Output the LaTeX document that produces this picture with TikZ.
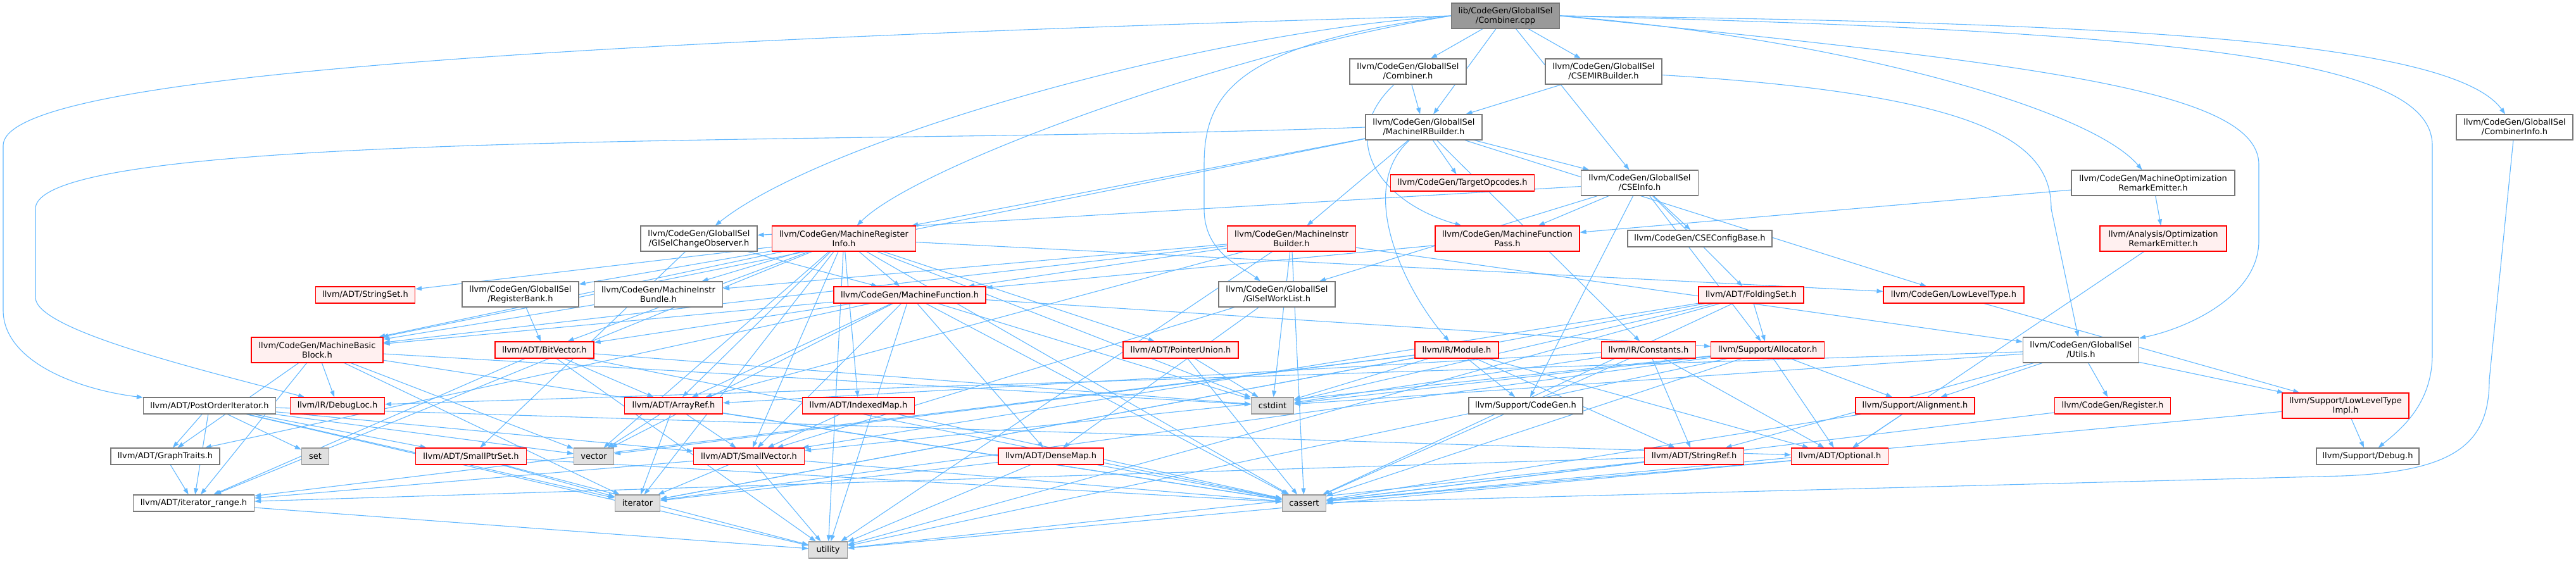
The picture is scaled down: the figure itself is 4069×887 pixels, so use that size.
\documentclass[tikz,border=0pt]{standalone}
\usepackage{fontspec}
\setmainfont{DejaVu Sans}
\usepackage{tikz}
\usetikzlibrary{arrows.meta,backgrounds}
\definecolor{depblue}{RGB}{99,184,255}
\definecolor{truncred}{RGB}{255,0,0}
\definecolor{truncfill}{RGB}{255,240,240}
\definecolor{sysfill}{RGB}{224,224,224}
\definecolor{sysgray}{RGB}{153,153,153}
\definecolor{hdrgray}{RGB}{120,120,120}

\begin{document}
\begin{tikzpicture}[
    x=1pt, y=-1pt,
    box/.style={line width=1.2pt, inner xsep=1pt, inner ysep=0pt, minimum height=26pt, align=center, font=\fontsize{13}{15}\selectfont},
    tall/.style={minimum height=40pt},
    root/.style={box, draw=hdrgray, fill=sysgray},
    hdr/.style={box, draw=hdrgray, fill=white},
    trunc/.style={box, draw=truncred, fill=truncfill},
    sys/.style={box, draw=sysgray, fill=sysfill},
    dep/.style={draw=depblue, line width=1.1pt, -{Triangle[length=10pt,width=7pt]}},
]
    \useasboundingbox (0,0) rectangle (4069,887);

    % Root file
    \node[root, tall, minimum width=171pt] (cpp) at (2378,25) {lib/CodeGen/GlobalISel\\/Combiner.cpp};

    % GlobalISel headers
    \node[hdr, tall, minimum width=184pt] (combh) at (2224,113) {llvm/CodeGen/GlobalISel\\/Combiner.h};
    \node[hdr, tall, minimum width=184pt] (csemir) at (2533,113) {llvm/CodeGen/GlobalISel\\/CSEMIRBuilder.h};
    \node[hdr, tall, minimum width=184pt] (mirb) at (2249,201) {llvm/CodeGen/GlobalISel\\/MachineIRBuilder.h};
    \node[hdr, tall, minimum width=184pt] (combinfo) at (3972,201) {llvm/CodeGen/GlobalISel\\/CombinerInfo.h};
    \node[trunc, minimum width=227pt] (tgtops) at (2310,289) {llvm/CodeGen/TargetOpcodes.h};
    \node[hdr, tall, minimum width=185pt] (cseinfo) at (2590,289) {llvm/CodeGen/GlobalISel\\/CSEInfo.h};
    \node[hdr, tall, minimum width=258pt] (more) at (3401,289) {llvm/CodeGen/MachineOptimization\\RemarkEmitter.h};
    \node[hdr, tall, minimum width=184pt] (observer) at (1104,377) {llvm/CodeGen/GlobalISel\\/GISelChangeObserver.h};
    \node[trunc, tall, minimum width=227pt] (mri) at (1333,377) {llvm/CodeGen/MachineRegister\\Info.h};
    \node[trunc, tall, minimum width=203pt] (mib) at (2040,377) {llvm/CodeGen/MachineInstr\\Builder.h};
    \node[trunc, tall, minimum width=228pt] (mfpass) at (2381,377) {llvm/CodeGen/MachineFunction\\Pass.h};
    \node[hdr, minimum width=228pt] (cseconf) at (2685,377) {llvm/CodeGen/CSEConfigBase.h};
    \node[trunc, tall, minimum width=200pt] (ore) at (3417,377) {llvm/Analysis/Optimization\\RemarkEmitter.h};

    % Middle rows
    \node[trunc, minimum width=157pt] (strset) at (577,466) {llvm/ADT/StringSet.h};
    \node[hdr, tall, minimum width=184pt] (regbank) at (822,465) {llvm/CodeGen/GlobalISel\\/RegisterBank.h};
    \node[hdr, tall, minimum width=203pt] (bundle) at (1040,465) {llvm/CodeGen/MachineInstr\\Bundle.h};
    \node[trunc, minimum width=240pt] (mfunc) at (1437,466) {llvm/CodeGen/MachineFunction.h};
    \node[hdr, tall, minimum width=184pt] (worklist) at (2017,465) {llvm/CodeGen/GlobalISel\\/GISelWorkList.h};
    \node[trunc, minimum width=166pt] (folding) at (2766,466) {llvm/ADT/FoldingSet.h};
    \node[trunc, minimum width=222pt] (llt) at (3086,466) {llvm/CodeGen/LowLevelType.h};
    \node[trunc, tall, minimum width=208pt] (mbb) at (501,553) {llvm/CodeGen/MachineBasic\\Block.h};
    \node[trunc, minimum width=156pt] (bitvec) at (860,553) {llvm/ADT/BitVector.h};
    \node[trunc, minimum width=182pt] (ptrunion) at (1865,553) {llvm/ADT/PointerUnion.h};
    \node[trunc, minimum width=132pt] (module) at (2301,553) {llvm/IR/Module.h};
    \node[trunc, minimum width=149pt] (consts) at (2604,553) {llvm/IR/Constants.h};
    \node[trunc, minimum width=179pt] (alloc) at (2792,553) {llvm/Support/Allocator.h};
    \node[hdr, tall, minimum width=183pt] (utils) at (3287,553) {llvm/CodeGen/GlobalISel\\/Utils.h};
    \node[hdr, minimum width=209pt] (postorder) at (331,641) {llvm/ADT/PostOrderIterator.h};
    \node[trunc, minimum width=149pt] (debugloc) at (533,641) {llvm/IR/DebugLoc.h};
    \node[trunc, minimum width=155pt] (arrayref) at (1064,641) {llvm/ADT/ArrayRef.h};
    \node[trunc, minimum width=177pt] (idxmap) at (1356,641) {llvm/ADT/IndexedMap.h};
    \node[sys, minimum width=67pt] (cstdint) at (2010,641) {cstdint};
    \node[hdr, minimum width=180pt] (suppcg) at (2410,641) {llvm/Support/CodeGen.h};
    \node[trunc, minimum width=188pt] (align) at (3025,641) {llvm/Support/Alignment.h};
    \node[trunc, minimum width=183pt] (register) at (3337,641) {llvm/CodeGen/Register.h};
    \node[trunc, tall, minimum width=200pt] (lltimpl) at (3705,641) {llvm/Support/LowLevelType\\Impl.h};

    % Bottom rows
    \node[hdr, minimum width=172pt] (graph) at (261,721) {llvm/ADT/GraphTraits.h};
    \node[sys, minimum width=43pt] (set) at (498,721) {set};
    \node[trunc, minimum width=175pt] (smallptr) at (744,721) {llvm/ADT/SmallPtrSet.h};
    \node[sys, minimum width=63pt] (vector) at (938,721) {vector};
    \node[trunc, minimum width=175pt] (smallvec) at (1183,721) {llvm/ADT/SmallVector.h};
    \node[trunc, minimum width=166pt] (densemap) at (1660,721) {llvm/ADT/DenseMap.h};
    \node[trunc, minimum width=157pt] (strref) at (2676,721) {llvm/ADT/StringRef.h};
    \node[trunc, minimum width=153pt] (optional) at (2906,721) {llvm/ADT/Optional.h};
    \node[hdr, minimum width=162pt] (debug) at (3740,721) {llvm/Support/Debug.h};
    \node[hdr, minimum width=191pt] (itrange) at (306,795) {llvm/ADT/iterator\_range.h};
    \node[sys, minimum width=71pt] (iterator) at (1007,795) {iterator};
    \node[sys, minimum width=69pt] (cassert) at (2060,795) {cassert};
    \node[sys, minimum width=61pt] (utility) at (1308,869) {utility};

    % Includes
    \begin{scope}[on background layer]
    \foreach \t in {combh,csemir,mirb,cseinfo} \draw[dep] (cpp) -- (\t);
    \draw[dep] (cpp.east) .. controls (3300,35) and (3870,60) .. (combinfo);
    \draw[dep] (cpp.east) .. controls (2900,60) and (3300,170) .. (more);
    \draw[dep] (cpp.east) .. controls (3500,50) and (3842,100) .. (3842,230) -- (3842,560) .. controls (3842,640) and (3790,680) .. (debug);
    \draw[dep] (cpp.east) .. controls (3200,100) and (3568,140) .. (3568,260) -- (3568,380) .. controls (3568,470) and (3450,520) .. (utils);
    \draw[dep] (cpp.west) .. controls (1900,50) and (1300,220) .. (observer);
    \draw[dep] (cpp.west) .. controls (1950,80) and (1450,260) .. (mri);
    \draw[dep] (cpp.west) .. controls (1950,70) and (1902,150) .. (1902,260) -- (1902,330) .. controls (1902,400) and (1960,420) .. (worklist);
    \draw[dep] (cpp.west) .. controls (700,70) and (5,130) .. (5,230) -- (5,490) .. controls (5,570) and (120,615) .. (postorder);

    \draw[dep] (combh) -- (mirb);
    \draw[dep] (combh) .. controls (2110,220) and (2180,320) .. (mfpass);
    \draw[dep] (csemir) -- (mirb);
    \draw[dep] (csemir) .. controls (3150,150) and (3240,230) .. (3240,330) -- (utils);

    \foreach \t in {tgtops,cseinfo,mib,mri,mbb,llt,consts} \draw[dep] (mirb) -- (\t);
    \draw[dep] (mirb) .. controls (2140,300) and (2220,460) .. (module);
    \draw[dep] (mirb.west) .. controls (1400,230) and (56,200) .. (56,330) -- (56,470) .. controls (56,520) and (300,580) .. (debugloc);

    \foreach \t in {mfpass,cseconf,observer,worklist,folding,alloc,suppcg} \draw[dep] (cseinfo) -- (\t);
    \foreach \t in {ore,mfpass} \draw[dep] (more) -- (\t);
    \draw[dep] (combinfo) -- (3932,600) .. controls (3932,700) and (3880,745) .. (3700,752) -- (cassert);
    \foreach \t in {smallptr,mfunc} \draw[dep] (observer) -- (\t);
    \foreach \t in {strset,regbank,bundle,mfunc,mbb,bitvec,arrayref,idxmap,ptrunion,smallvec,itrange,llt,cassert,cstdint,iterator,utility,vector} \draw[dep] (mri) -- (\t);
    \foreach \t in {arrayref,utils,mbb,mfunc,bundle,cassert,cstdint,utility} \draw[dep] (mib) -- (\t);
    \draw[dep] (mfpass) -- (mfunc);
    \draw[dep] (regbank) -- (bitvec);
    \draw[dep] (bundle) -- (mbb);
    \foreach \t in {arrayref,bitvec,densemap,graph,smallvec,mbb,alloc,cassert,cstdint,utility,vector} \draw[dep] (mfunc) -- (\t);
    \foreach \t in {densemap,smallvec} \draw[dep] (worklist) -- (\t);
    \foreach \t in {alloc,smallvec,iterator,cassert,cstdint,utility} \draw[dep] (folding) -- (\t);
    \draw[dep] (llt) -- (lltimpl);
    \foreach \t in {graph,itrange,debugloc,cassert,cstdint,iterator,vector} \draw[dep] (mbb) -- (\t);
    \foreach \t in {arrayref,itrange,cassert,cstdint,utility} \draw[dep] (bitvec) -- (\t);
    \foreach \t in {cassert,cstdint} \draw[dep] (ptrunion) -- (\t);
    \foreach \t in {strref,suppcg,itrange,optional,cstdint,iterator,vector} \draw[dep] (module) -- (\t);
    \foreach \t in {arrayref,optional,strref,cassert,cstdint} \draw[dep] (consts) -- (\t);
    \foreach \t in {optional,smallvec,align,cassert,cstdint,iterator,utility} \draw[dep] (alloc) -- (\t);
    \foreach \t in {strref,register,debugloc,align,lltimpl,cstdint} \draw[dep] (utils) -- (\t);
    \foreach \t in {graph,optional,smallptr,smallvec,itrange,iterator,set,utility,vector} \draw[dep] (postorder) -- (\t);
    \foreach \t in {smallvec,vector,iterator,cassert} \draw[dep] (arrayref) -- (\t);
    \foreach \t in {smallvec,cassert} \draw[dep] (idxmap) -- (\t);
    \foreach \t in {optional,cassert} \draw[dep] (align) -- (\t);
    \draw[dep] (register) -- (cassert);
    \foreach \t in {debug,cassert} \draw[dep] (lltimpl) -- (\t);
    \draw[dep] (graph) -- (itrange);
    \foreach \t in {cassert,iterator,utility} \draw[dep] (smallptr) -- (\t);
    \foreach \t in {itrange,iterator,utility,cassert} \draw[dep] (smallvec) -- (\t);
    \foreach \t in {cassert,iterator,utility} \draw[dep] (densemap) -- (\t);
    \foreach \t in {itrange,cassert,utility} \draw[dep] (strref) -- (\t);
    \foreach \t in {cassert,utility} \draw[dep] (optional) -- (\t);
    \draw[dep] (itrange) -- (utility);
    \draw[dep] (ore) -- (optional);
    \end{scope}
\end{tikzpicture}
\end{document}
